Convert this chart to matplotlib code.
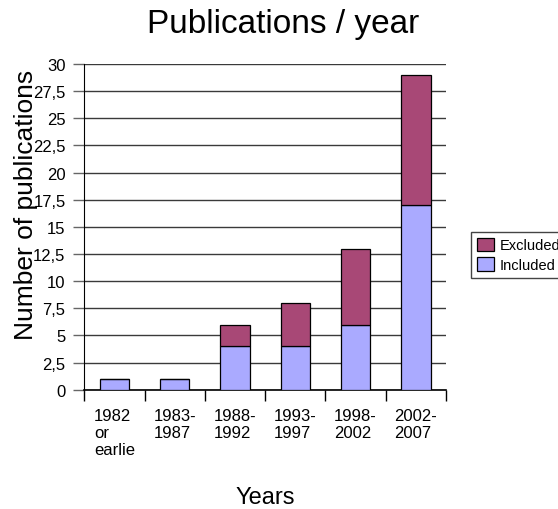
import numpy as np
import matplotlib.pyplot as plt

plt.rcParams['font.family'] = ['Liberation Sans', 'DejaVu Sans']

# Publication counts per period
periods = ['1982\nor\nearlie', '1983-\n1987', '1988-\n1992', '1993-\n1997', '1998-\n2002', '2002-\n2007']
included = [1, 1, 4, 4, 6, 17]
excluded = [0, 0, 2, 4, 7, 12]
yticks = np.arange(0, 30.1, 2.5)

x = np.arange(len(periods))
W, H = 558, 510

fig = plt.figure(figsize=(W / 100, H / 100), dpi=100)
ax = fig.add_axes([84.3 / W, 1 - 390.7 / H, 361.7 / W, 325.7 / H])

ax.bar(x, included, width=0.49, color='#AAAAFF', edgecolor='black', linewidth=0.9,
       label='Included', zorder=3)
ax.bar(x, excluded, width=0.49, bottom=included, color='#A84876', edgecolor='black',
       linewidth=0.9, label='Excluded', zorder=3)

ax.set_xlim(-0.5, len(periods) - 0.5)
ax.set_ylim(0, 30)
ax.set_yticks(yticks)
ax.set_yticklabels([f'{v:g}'.replace('.', ',') for v in yticks], fontsize=12)
ax.yaxis.grid(True, color='#3a3a3a', linewidth=1.0, zorder=0)
ax.tick_params(axis='y', length=8, width=1.0, color='#666666', pad=5.5)

ax.set_xticks(x)
ax.set_xticklabels(periods, fontsize=12, multialignment='left', va='top', linespacing=1.15)
ax.tick_params(axis='x', which='major', length=0, pad=13.5)
ax.set_xticks(np.arange(-0.5, len(periods)), minor=True)
ax.tick_params(axis='x', which='minor', length=8, width=1.0, color='black')

for s in ['top', 'right']:
    ax.spines[s].set_visible(False)
ax.spines['left'].set_color('black')
ax.spines['bottom'].set_color('black')
ax.spines['bottom'].set_linewidth(1.2)

fig.text(283.5 / W, 1 - 33 / H, 'Publications / year', fontsize=24, ha='center', va='baseline')

ax.set_ylabel('Number of publications', fontsize=19)
ax.yaxis.set_label_coords(-0.127, 0.57)
ax.set_xlabel('Years', fontsize=17, va='baseline')
ax.xaxis.set_label_coords(0.5, (390.7 - 504) / 325.7)

handles, labels = ax.get_legend_handles_labels()
fig.legend(handles[::-1], labels[::-1], loc='upper left', bbox_to_anchor=(471 / W, 1 - 233 / H),
           fontsize=10.5, frameon=True, fancybox=False, edgecolor='#444444', framealpha=1,
           handlelength=1.16, handleheight=1.0, borderpad=0.4, labelspacing=0.35,
           handletextpad=0.4, borderaxespad=0)

fig.savefig('out.png', dpi=100)
